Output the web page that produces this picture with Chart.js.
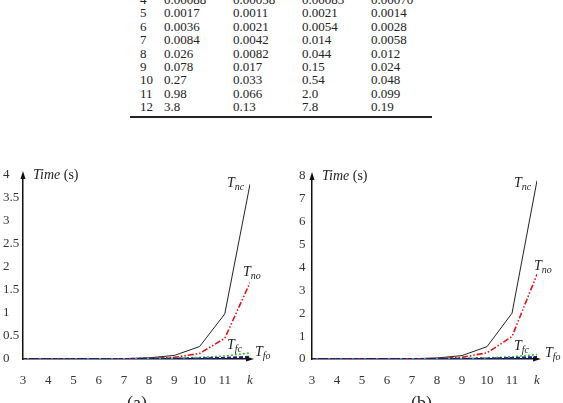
<!DOCTYPE html>
<html>
<head>
<meta charset="utf-8">
<script src="https://cdn.jsdelivr.net/npm/chart.js@4/dist/chart.umd.min.js"></script>
<style>
	html, body { margin: 0; padding: 0; background: #fff; }
	body { width: 563px; height: 403px; position: relative; overflow: hidden; font-family: "Liberation Serif", serif; color: #222; }
	.cell { position: absolute; font-size: 13px; line-height: 13px; white-space: nowrap; }
	.rule { position: absolute; left: 130px; width: 302px; top: 116px; height: 2px; background: #222; }
	.wrap { position: absolute; top: 160px; height: 243px; }
	.cap { position: absolute; top: 393px; font-size: 18px; line-height: 20px; }
</style>
</head>
<body>
<div id="table"></div>
<div class="rule"></div>
<div class="wrap" style="left:0;width:280px"><canvas id="chartA"></canvas></div>
<div class="wrap" style="left:280px;width:283px"><canvas id="chartB"></canvas></div>
<div class="cap" style="left:127px">(a)</div>
<div class="cap" style="left:411px">(b)</div>
<script>
// значения k
const kValues = [3, 4, 5, 6, 7, 8, 9, 10, 11, 12]

// график (a)
const tncA = [0.00045, 0.00088, 0.0017, 0.0036, 0.0084, 0.026, 0.078, 0.27, 0.98, 3.8]
const tnoA = [0.0002, 0.0004, 0.0008, 0.0017, 0.004, 0.012, 0.035, 0.12, 0.45, 1.66]
const tfcA = [0.0003, 0.00058, 0.0011, 0.0021, 0.0042, 0.0082, 0.017, 0.033, 0.066, 0.13]
const tfoA = [0.0001, 0.0002, 0.0004, 0.0008, 0.0017, 0.0033, 0.0065, 0.013, 0.025, 0.05]

// график (b)
const tncB = [0.0003, 0.00083, 0.0021, 0.0054, 0.014, 0.044, 0.15, 0.54, 2.0, 7.8]
const tnoB = [0.0002, 0.0005, 0.001, 0.0027, 0.007, 0.022, 0.075, 0.27, 0.98, 3.7]
const tfcB = [0.00035, 0.00070, 0.0014, 0.0028, 0.0058, 0.012, 0.024, 0.048, 0.099, 0.19]
const tfoB = [0.0001, 0.0003, 0.0006, 0.0013, 0.0027, 0.0055, 0.011, 0.022, 0.045, 0.09]

// таблица сверху (видны строки с k = 4..12)
const tableCols = [tncA, tfcA, tncB, tfcB]
const colX = [164, 233, 302, 371]

function buildTable() {
	const box = document.getElementById('table')
	for (let i = 1; i < kValues.length; i++) {
		const top = -7 + (i - 1) * 13.4
		const kc = document.createElement('div')
		kc.className = 'cell'
		kc.style.left = '140px'
		kc.style.top = top + 'px'
		kc.textContent = kValues[i]
		box.appendChild(kc)
		tableCols.forEach((col, j) => {
			const c = document.createElement('div')
			c.className = 'cell'
			c.style.left = colX[j] + 'px'
			c.style.top = top + 'px'
			c.textContent = col[i].toPrecision(2)
			box.appendChild(c)
		})
	}
}

const serif = '"Liberation Serif", serif'

function pts(arr) {
	return kValues.map((k, i) => ({ x: k, y: arr[i] }))
}

// подписи T_nc и т.п. + стрелки осей
const decorPlugin = {
	id: 'decor',
	afterDraw(chart, args, opts) {
		const ctx = chart.ctx
		const area = chart.chartArea
		ctx.save()
		ctx.fillStyle = '#111'
		// стрелка оси Y
		ctx.beginPath()
		ctx.moveTo(area.left, area.top - 4)
		ctx.lineTo(area.left - 2.5, area.top + 4)
		ctx.lineTo(area.left + 2.5, area.top + 4)
		ctx.fill()
		// стрелка оси X
		ctx.beginPath()
		ctx.moveTo(area.right + 4, area.bottom)
		ctx.lineTo(area.right - 4, area.bottom - 2.5)
		ctx.lineTo(area.right - 4, area.bottom + 2.5)
		ctx.fill()

		// Time (s)
		ctx.fillStyle = '#222'
		ctx.textBaseline = 'middle'
		ctx.font = 'italic 14px ' + serif
		ctx.fillText('Time', area.left + opts.titleDx, area.top)
		const w = ctx.measureText('Time ').width
		ctx.font = '14px ' + serif
		ctx.fillText('(s)', area.left + opts.titleDx + w, area.top)

		// подписи серий у последних точек
		opts.labels.forEach(l => {
			const meta = chart.getDatasetMeta(l.ds)
			const p = meta.data[meta.data.length - 1]
			const x = p.x + l.dx
			const y = p.y + l.dy
			ctx.font = 'italic 14px ' + serif
			ctx.fillText('T', x, y)
			const tw = ctx.measureText('T').width
			ctx.font = 'italic 10px ' + serif
			ctx.fillText(l.sub, x + tw, y + 4)
		})
		ctx.restore()
	}
}

function makeChart(id, series, yMax, yStep, pad, yWidth, labels) {
	new Chart(document.getElementById(id), {
		type: 'line',
		data: {
			datasets: [
				{ data: pts(series[0]), borderColor: '#222', borderWidth: 1, order: 3 },
				{ data: pts(series[1]), borderColor: '#e3141c', borderWidth: 1.6, borderDash: [6, 2, 1.5, 2, 1.5, 2], order: 2 },
				{ data: pts(series[2]), borderColor: '#33c233', borderWidth: 1.6, borderDash: [2, 2], order: 1 },
				{ data: pts(series[3]), borderColor: '#1a1aa0', borderWidth: 2, borderDash: [4, 2], order: 0 }
			]
		},
		options: {
			responsive: true,
			maintainAspectRatio: false,
			animation: false,
			elements: { point: { radius: 0 }, line: { tension: 0 } },
			layout: { padding: pad },
			scales: {
				x: {
					type: 'linear',
					min: 3,
					max: 12,
					grid: { display: false },
					border: { display: true, color: '#111', width: 1.5 },
					afterFit: s => { s.height = 44 - pad.bottom },
					ticks: {
						stepSize: 1,
						padding: 6,
						color: '#333',
						maxRotation: 0,
						font: c => ({ family: serif, size: 13, style: c.tick && c.tick.value === 12 ? 'italic' : 'normal' }),
						callback: v => v === 12 ? 'k' : String(v)
					}
				},
				y: {
					min: 0,
					max: yMax,
					grid: { display: false },
					border: { display: true, color: '#111', width: 1.5 },
					afterFit: s => { s.width = yWidth },
					ticks: {
						stepSize: yStep,
						crossAlign: 'far',
						color: '#333',
						font: { family: serif, size: 13 },
						callback: v => String(v)
					}
				}
			},
			plugins: {
				legend: { display: false },
				tooltip: { enabled: false },
				decor: { titleDx: 10, labels: labels }
			}
		},
		plugins: [decorPlugin]
	})
}

buildTable()

makeChart('chartA', [tncA, tnoA, tfcA, tfoA], 4, 0.5,
	{ left: 3, right: 30, top: 15, bottom: 0 }, 20,
	[
		{ ds: 0, sub: 'nc', dx: -23, dy: -1 },
		{ ds: 1, sub: 'no', dx: -7, dy: -10 },
		{ ds: 2, sub: 'fc', dx: -23, dy: -8 },
		{ ds: 3, sub: 'fo', dx: 5, dy: -4 }
	])

makeChart('chartB', [tncB, tnoB, tfcB, tfoB], 8, 1,
	{ left: 19, right: 26, top: 16, bottom: 0 }, 13,
	[
		{ ds: 0, sub: 'nc', dx: -23, dy: 3 },
		{ ds: 1, sub: 'no', dx: -3, dy: -8 },
		{ ds: 2, sub: 'fc', dx: -23, dy: -8 },
		{ ds: 3, sub: 'fo', dx: 8, dy: -4 }
	])
</script>
</body>
</html>
